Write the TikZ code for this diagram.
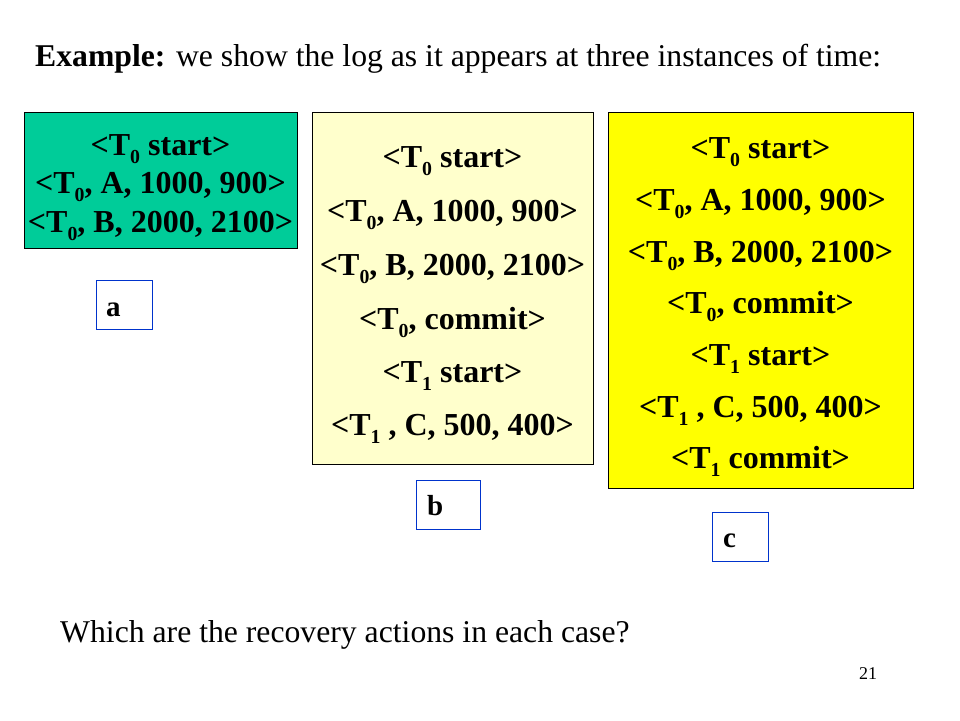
\documentclass[tikz,border=0pt]{standalone}
\usepackage{fontspec}
\setmainfont{Liberation Serif}
\definecolor{boxgreen}{RGB}{0,204,153}
\definecolor{paleyellow}{RGB}{255,255,204}
\definecolor{brightyellow}{RGB}{255,255,0}
\definecolor{labelblue}{RGB}{0,51,204}
\newcommand\lowsub[1]{\raisebox{-0.28em}{\scalebox{0.62}{#1}}}
\tikzset{
  logbox/.style={draw=black, line width=0.8pt, inner sep=0pt},
  logline/.style={anchor=base, inner sep=0pt, font=\fontsize{32}{36}\selectfont\bfseries},
  labelbox/.style={draw=labelblue, line width=0.8pt, inner sep=0pt, fill=white},
  labeltext/.style={anchor=base west, inner sep=0pt, font=\fontsize{29}{32}\selectfont\bfseries},
  plaintext/.style={anchor=base west, inner sep=0pt, font=\fontsize{31.7}{36}\selectfont},
}
\begin{document}
\begin{tikzpicture}[x=1pt,y=-1pt]
\useasboundingbox (0,0) rectangle (960,720);
\fill[white] (0,0) rectangle (960,720);
% title
\node[plaintext] (title) at (35,66) {\textbf{Example:} we show the log as it appears at three instances of time:};
% box a
\node[logbox, fill=boxgreen, minimum width=273pt, minimum height=136pt] (boxa) at (160.5,180) {};
\node[logline] (a1) at (160.5,155) {<T\lowsub{0} start>};
\node[logline] (a2) at (160.5,193) {<T\lowsub{0}, A, 1000, 900>};
\node[logline] (a3) at (160.5,232) {<T\lowsub{0}, B, 2000, 2100>};
% box b
\node[logbox, fill=paleyellow, minimum width=281pt, minimum height=352pt] (boxb) at (452.5,288) {};
\node[logline] (b1) at (452.5,167) {<T\lowsub{0} start>};
\node[logline] (b2) at (452.5,221) {<T\lowsub{0}, A, 1000, 900>};
\node[logline] (b3) at (452.5,275) {<T\lowsub{0}, B, 2000, 2100>};
\node[logline] (b4) at (452.5,329) {<T\lowsub{0}, commit>};
\node[logline] (b5) at (452.5,382) {<T\lowsub{1} start>};
\node[logline] (b6) at (452.5,435) {<T\lowsub{1} , C, 500, 400>};
% box c
\node[logbox, fill=brightyellow, minimum width=305pt, minimum height=376pt] (boxc) at (760.5,300) {};
\node[logline] (c1) at (760.5,158) {<T\lowsub{0} start>};
\node[logline] (c2) at (760.5,210) {<T\lowsub{0}, A, 1000, 900>};
\node[logline] (c3) at (760.5,262) {<T\lowsub{0}, B, 2000, 2100>};
\node[logline] (c4) at (760.5,313) {<T\lowsub{0}, commit>};
\node[logline] (c5) at (760.5,365) {<T\lowsub{1} start>};
\node[logline] (c6) at (760.5,417) {<T\lowsub{1} , C, 500, 400>};
\node[logline] (c7) at (760.5,468) {<T\lowsub{1} commit>};
% labels
\node[labelbox, minimum width=56pt, minimum height=49pt] (la) at (124.5,305) {};
\node[labeltext] (lat) at (106,316) {a};
\node[labelbox, minimum width=64pt, minimum height=49pt] (lb) at (448,504.5) {};
\node[labeltext] (lbt) at (427,515) {b};
\node[labelbox, minimum width=56pt, minimum height=49pt] (lc) at (740,536.5) {};
\node[labeltext] (lct) at (723,547) {c};
% bottom
\node[plaintext] (question) at (60,642) {Which are the recovery actions in each case?};
\node[anchor=base, inner sep=0pt, font=\fontsize{18}{20}\selectfont] (pagenum) at (868,679) {21};
\end{tikzpicture}
\end{document}
